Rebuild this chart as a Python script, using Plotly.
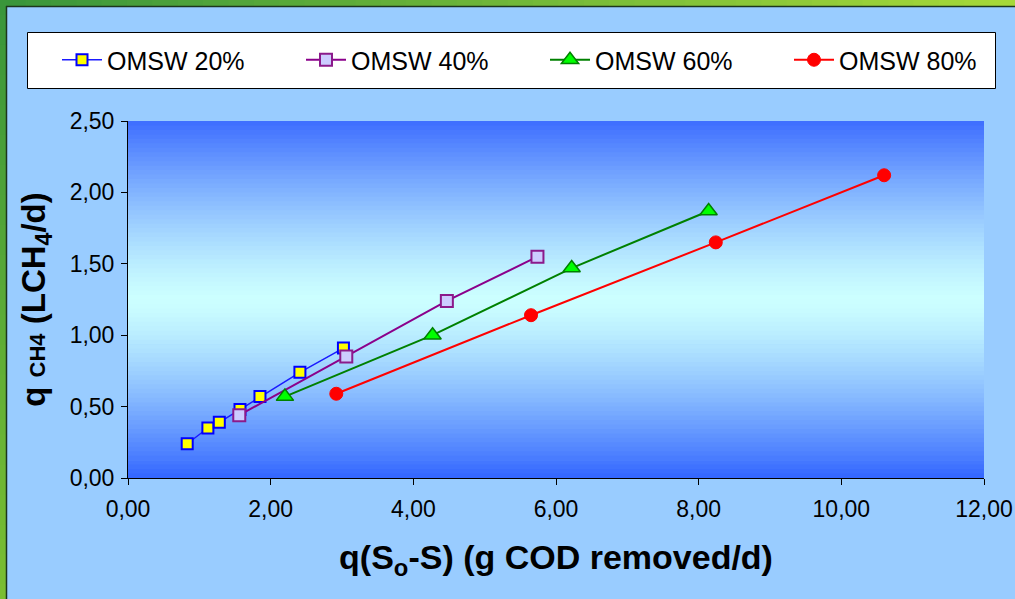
import plotly.graph_objects as go

# ---- data ----
x_20 = [0.83, 1.12, 1.28, 1.57, 1.85, 2.41, 3.02]
y_20 = [0.24, 0.35, 0.39, 0.48, 0.57, 0.74, 0.91]

x_40 = [1.56, 3.06, 4.47, 5.74]
y_40 = [0.44, 0.85, 1.24, 1.55]

x_60 = [2.20, 4.27, 6.22, 8.14]
y_60 = [0.57, 1.00, 1.47, 1.87]

x_80 = [2.92, 5.65, 8.24, 10.60]
y_80 = [0.59, 1.14, 1.65, 2.12]

names = ["OMSW 20%", "OMSW 40%", "OMSW 60%", "OMSW 80%"]

W, H = 1015, 599
L, R, T, B = 128, 984, 121, 478  # plot area in pixels


def px_x(p):
    return (p - L) / (R - L)


def px_y(p):
    return (B - p) / (B - T)


def lerp(c1, c2, f):
    return "rgb(%d,%d,%d)" % tuple(round(a + (b - a) * f) for a, b in zip(c1, c2))


fig = go.Figure()

fig.add_trace(go.Scatter(
    x=x_20, y=y_20, name=names[0], mode="lines+markers",
    line=dict(color="#1a1aff", width=1.5),
    marker=dict(symbol="square", size=11, color="#ffff00",
                line=dict(color="#0000ff", width=2))))
fig.add_trace(go.Scatter(
    x=x_40, y=y_40, name=names[1], mode="lines+markers",
    line=dict(color="#8b008b", width=2),
    marker=dict(symbol="square", size=12, color="#ccccff",
                line=dict(color="#8b1a8b", width=2))))
fig.add_trace(go.Scatter(
    x=x_60, y=y_60, name=names[2], mode="lines+markers",
    line=dict(color="#008000", width=2),
    marker=dict(symbol="triangle-up", size=15, color="#00ff00",
                line=dict(color="#008000", width=1.5))))
fig.add_trace(go.Scatter(
    x=x_80, y=y_80, name=names[3], mode="lines+markers",
    line=dict(color="#ff0000", width=2),
    marker=dict(symbol="circle", size=13, color="#ff0000",
                line=dict(color="#ff0000", width=1))))

shapes = []
# vertical gradient inside the plot area
N = 80
top_c = (61, 109, 255)
bot_c = (51, 102, 255)
mid_c = (204, 255, 255)
for i in range(N):
    t = (i + 0.5) / N  # 0 at top
    d = abs(t - 0.5) * 2
    f = d ** 1.3
    edge = top_c if t < 0.5 else bot_c
    shapes.append(dict(type="rect", xref="x domain", yref="y domain",
                       x0=0, x1=1, y0=1 - i / N, y1=1 - (i + 1) / N - 0.002,
                       fillcolor=lerp(mid_c, edge, f), line=dict(width=0),
                       layer="below"))

# green frame (top and left edges)
g_left = (58, 150, 58)
g_right = (166, 216, 56)
g_bottom = (122, 190, 50)
M = 40
for i in range(M):
    shapes.append(dict(type="rect", xref="paper", yref="paper",
                       x0=px_x(i * W / M), x1=px_x((i + 1) * W / M + 1),
                       y0=px_y(0), y1=px_y(6),
                       fillcolor=lerp(g_left, g_right, i / (M - 1)),
                       line=dict(width=0), layer="below"))
    shapes.append(dict(type="rect", xref="paper", yref="paper",
                       x0=px_x(0), x1=px_x(6),
                       y0=px_y(i * H / M), y1=px_y((i + 1) * H / M + 1),
                       fillcolor=lerp(g_left, g_bottom, i / (M - 1)),
                       line=dict(width=0), layer="below"))
shapes.append(dict(type="line", xref="paper", yref="paper",
                   x0=px_x(6), x1=px_x(W), y0=px_y(6.5), y1=px_y(6.5),
                   line=dict(color="#1c361c", width=1.5), layer="below"))
shapes.append(dict(type="line", xref="paper", yref="paper",
                   x0=px_x(6.5), x1=px_x(6.5), y0=px_y(6), y1=px_y(H),
                   line=dict(color="#1c361c", width=1.5), layer="below"))
# legend box
shapes.append(dict(type="rect", xref="paper", yref="paper",
                   x0=px_x(27.5), x1=px_x(995.5), y0=px_y(32.5), y1=px_y(88.5),
                   fillcolor="#ffffff", line=dict(color="#000000", width=1),
                   layer="below"))

fig.update_layout(
    width=W, height=H,
    margin=dict(l=L, r=W - R, t=T, b=H - B, autoexpand=False),
    paper_bgcolor="#99ccff",
    plot_bgcolor="#99ccff",
    separators=",.",
    font=dict(family="Liberation Sans, Arial, sans-serif", color="#000000"),
    shapes=shapes,
    showlegend=True,
    legend=dict(orientation="h", x=px_x(57), y=px_y(60),
                xanchor="left", yanchor="middle",
                bgcolor="rgba(0,0,0,0)", borderwidth=0,
                font=dict(size=25, color="#000000"),
                entrywidth=189, entrywidthmode="pixels",
                itemwidth=40, itemclick=False, itemdoubleclick=False),
    xaxis=dict(range=[0, 12], dtick=2, tick0=0, tickformat=".2f",
               showgrid=False, zeroline=False,
               showline=True, linecolor="#000000", linewidth=1,
               ticks="outside", ticklen=6, tickcolor="#000000",
               tickfont=dict(size=23), automargin=False,
               ticklabelstandoff=4,
               title=dict(text="q(S<sub>o</sub>-S) (g COD removed/d)",
                          font=dict(size=34, weight="bold"), standoff=24)),
    yaxis=dict(range=[0, 2.5], dtick=0.5, tick0=0, tickformat=".2f",
               showgrid=False, zeroline=False,
               showline=True, linecolor="#000000", linewidth=1,
               ticks="outside", ticklen=6, tickcolor="#000000",
               tickfont=dict(size=23), automargin=False,
               ticklabelstandoff=2,
               title=dict(text="q <span style='font-size:22px'>CH4</span> (LCH<sub>4</sub>/d)",
                          font=dict(size=33, weight="bold"), standoff=14)),
)

fig.write_html("out.html")
